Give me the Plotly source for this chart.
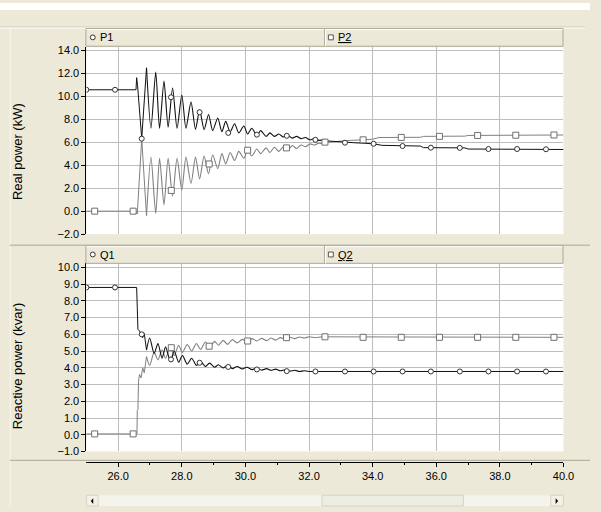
import plotly.graph_objects as go

# ---------------- data ----------------
# shared oscillation instants (extrema) for P1/P2
p_osc_t = [26.89, 27.03, 27.18, 27.30, 27.44, 27.57, 27.71, 27.85, 28.00, 28.13,
           28.29, 28.43, 28.56, 28.70, 28.84, 28.97, 29.13, 29.26, 29.38, 29.52,
           29.66, 29.79, 29.95, 30.07, 30.20, 30.36, 30.48, 30.65, 30.77, 30.91,
           31.05, 31.19, 31.33, 31.47, 31.61, 31.75, 31.89, 32.03, 32.17, 32.31,
           32.45, 32.59]

p1_head_t = [25.0, 26.56, 26.58, 26.61, 26.74]
p1_head_v = [10.55, 10.55, 11.6, 10.9, 6.3]
p1_osc_v = [12.46, 7.2, 12.1, 7.2, 11.3, 7.3, 10.7, 7.2, 10.1, 7.2,
            9.5, 7.1, 8.8, 7.1, 8.4, 7.0, 8.1, 6.9, 7.8, 6.9,
            7.6, 6.8, 7.4, 6.7, 7.2, 6.6, 7.0, 6.5, 6.8, 6.5,
            6.7, 6.45, 6.6, 6.35, 6.5, 6.3, 6.4, 6.2, 6.3, 6.15,
            6.2, 6.1]
p1_tail_t = [32.80, 33.40, 34.00, 34.30, 35.50, 35.60, 36.90, 37.00, 40.00]
p1_tail_v = [6.05, 5.95, 5.86, 5.72, 5.66, 5.52, 5.50, 5.40, 5.36]

p2_head_t = [25.0, 26.56, 26.60, 26.74]
p2_head_v = [0.0, 0.0, -0.25, 6.3]
p2_osc_v = [-0.4, 4.7, -0.2, 4.6, 0.55, 4.6, 1.3, 4.6, 1.85, 4.7,
            2.4, 4.7, 2.8, 4.8, 3.25, 4.9, 3.7, 5.0, 4.1, 5.1,
            4.4, 5.2, 4.6, 5.3, 4.8, 5.4, 5.0, 5.5, 5.1, 5.55,
            5.2, 5.6, 5.3, 5.7, 5.45, 5.75, 5.6, 5.85, 5.75, 5.9,
            5.85, 6.0]
p2_tail_t = [32.80, 33.30, 34.00, 34.20, 35.50, 35.60, 36.90, 37.00, 40.00]
p2_tail_v = [6.05, 6.15, 6.25, 6.40, 6.42, 6.50, 6.52, 6.58, 6.62]

# shared oscillation instants for Q1/Q2
q_osc_t = [26.89, 26.99, 27.13, 27.25, 27.38, 27.49, 27.64, 27.76, 27.90, 28.02,
           28.17, 28.31, 28.46, 28.59, 28.74, 28.87, 29.03, 29.15, 29.30, 29.44,
           29.59, 29.74, 29.90, 30.05, 30.21, 30.36, 30.51, 30.67, 30.80, 30.95,
           31.10, 31.25, 31.40, 31.55, 31.70, 31.85, 32.00]

q1_head_t = [25.0, 26.58, 26.60, 26.62, 26.67, 26.77, 26.82]
q1_head_v = [8.8, 8.8, 7.6, 6.3, 6.2, 5.8, 6.05]
q1_osc_v = [5.06, 5.78, 4.86, 5.45, 4.57, 5.25, 4.38, 5.0, 4.34, 4.73,
            4.22, 4.57, 4.14, 4.38, 4.08, 4.28, 4.03, 4.18, 3.99, 4.14,
            3.95, 4.08, 3.93, 4.03, 3.89, 3.98, 3.86, 3.95, 3.85, 3.92,
            3.82, 3.88, 3.80, 3.85, 3.78, 3.82, 3.78]
q1_tail_t = [40.0]
q1_tail_v = [3.78]

q2_head_t = [25.0, 26.59, 26.60, 26.62, 26.64, 26.67, 26.72, 26.77, 26.82]
q2_head_v = [0.05, 0.05, 1.45, 1.5, 3.2, 3.6, 3.4, 4.0, 3.7]
q2_osc_v = [4.67, 4.14, 4.92, 4.47, 5.06, 4.57, 5.25, 4.73, 5.35, 4.92,
            5.39, 5.0, 5.45, 5.1, 5.54, 5.25, 5.58, 5.35, 5.64, 5.4,
            5.68, 5.49, 5.7, 5.54, 5.74, 5.6, 5.76, 5.62, 5.78, 5.65,
            5.8, 5.7, 5.82, 5.74, 5.84, 5.78, 5.85]
q2_tail_t = [32.20, 32.40, 40.0]
q2_tail_v = [5.80, 5.85, 5.82]

# marker samples
circ_mk_t = [25.0, 25.9, 26.74, 27.66, 28.56, 29.46, 30.36, 31.3, 32.2, 33.13,
             34.03, 34.94, 35.83, 36.74, 37.64, 38.54, 39.45]
p1_mk_v = [10.55, 10.55, 6.3, 9.9, 8.6, 6.8, 6.65, 6.55, 6.2, 5.95,
           5.86, 5.66, 5.52, 5.5, 5.4, 5.4, 5.38]
q1_mk_v = [8.8, 8.8, 6.0, 4.5, 4.3, 4.05, 3.9, 3.8, 3.78, 3.78,
           3.78, 3.78, 3.78, 3.78, 3.78, 3.78, 3.78]
sq_mk_t = [25.26, 26.47, 27.67, 28.86, 30.07, 31.29, 32.5, 33.7, 34.9, 36.1,
           37.3, 38.5, 39.7]
p2_mk_v = [0.0, 0.0, 1.8, 4.1, 5.3, 5.5, 6.0, 6.2, 6.41, 6.5, 6.58, 6.6, 6.62]
q2_mk_v = [0.05, 0.05, 5.2, 5.29, 5.6, 5.8, 5.85, 5.82, 5.82, 5.82, 5.82, 5.82, 5.82]

series_names = ["P1", "P2", "Q1", "Q2"]
y_titles = ["Real power (kW)", "Reactive power (kvar)"]
x_ticks = [26, 28, 30, 32, 34, 36, 38, 40]

W, H = 601, 512
BG = "#ECE9D8"
GRID = "#BDBDBD"
DARK = "#111111"
GRAY = "#808080"
FONT = "Liberation Sans, Arial, sans-serif"


def px(v):
    return v / W


def py(v):
    return 1 - v / H


fig = go.Figure()


def add_series(head_t, head_v, osc_t, osc_v, tail_t, tail_v, color, xa, ya):
    # step / head part drawn straight
    fig.add_trace(go.Scatter(x=head_t + osc_t[:1], y=head_v + osc_v[:1], mode="lines",
                             xaxis=xa, yaxis=ya, line=dict(color=color, width=1),
                             showlegend=False, hoverinfo="skip"))
    # oscillating part drawn smooth
    fig.add_trace(go.Scatter(x=osc_t, y=osc_v, mode="lines", xaxis=xa, yaxis=ya,
                             line=dict(color=color, width=1.1, shape="spline", smoothing=0.7),
                             showlegend=False, hoverinfo="skip"))
    # settling tail
    fig.add_trace(go.Scatter(x=osc_t[-1:] + tail_t, y=osc_v[-1:] + tail_v, mode="lines",
                             xaxis=xa, yaxis=ya, line=dict(color=color, width=1),
                             showlegend=False, hoverinfo="skip"))


def add_marks(t, v, color, sym, size, xa, ya):
    fig.add_trace(go.Scatter(x=t, y=v, mode="markers", xaxis=xa, yaxis=ya,
                             marker=dict(symbol=sym, size=size, color="white",
                                         line=dict(color=color, width=1)),
                             showlegend=False, hoverinfo="skip"))


add_series(p2_head_t, p2_head_v, p_osc_t, p2_osc_v, p2_tail_t, p2_tail_v, GRAY, "x", "y")
add_series(p1_head_t, p1_head_v, p_osc_t, p1_osc_v, p1_tail_t, p1_tail_v, DARK, "x", "y")
add_marks(sq_mk_t, p2_mk_v, "#707070", "square", 6, "x", "y")
add_marks(circ_mk_t, p1_mk_v, "#333333", "circle", 5, "x", "y")

add_series(q2_head_t, q2_head_v, q_osc_t, q2_osc_v, q2_tail_t, q2_tail_v, GRAY, "x2", "y2")
add_series(q1_head_t, q1_head_v, q_osc_t, q1_osc_v, q1_tail_t, q1_tail_v, DARK, "x2", "y2")
add_marks(sq_mk_t, q2_mk_v, "#707070", "square", 6, "x2", "y2")
add_marks(circ_mk_t, q1_mk_v, "#333333", "circle", 5, "x2", "y2")

xdom = [px(88), px(574)]
tickfont = dict(family=FONT, size=11, color="black")

fig.update_layout(
    width=W, height=H, margin=dict(l=0, r=0, t=0, b=0),
    paper_bgcolor=BG, plot_bgcolor="white", showlegend=False,
    xaxis=dict(domain=xdom, range=[25, 40], anchor="y", tickvals=x_ticks,
               showticklabels=False, ticks="", showgrid=True, gridcolor=GRID,
               gridwidth=1, zeroline=False, showline=False),
    yaxis=dict(domain=[py(235.3), py(45)], range=[-2, 14.25], anchor="x",
               dtick=2, tick0=0, tickformat=".1f", ticks="outside", ticklen=4,
               tickcolor="black", showline=True, linecolor="black", linewidth=1,
               showgrid=True, gridcolor=GRID, zeroline=False, tickfont=tickfont),
    xaxis2=dict(domain=xdom, range=[25, 40], anchor="free", position=py(467),
                tickvals=x_ticks, ticktext=[f"{v:.1f}" for v in x_ticks],
                ticks="outside", ticklen=4, tickcolor="black", showline=True,
                linecolor="black", linewidth=1, showgrid=True, gridcolor=GRID,
                zeroline=False, tickfont=tickfont,
                minor=dict(tickvals=[27, 29, 31, 33, 35, 37, 39], ticks="outside",
                           ticklen=2, tickcolor="black", showgrid=False)),
    yaxis2=dict(domain=[py(456.5), py(265)], range=[-1, 10.24], anchor="x2",
                dtick=1, tick0=0, tickformat=".1f", ticks="outside", ticklen=4,
                tickcolor="black", showline=True, linecolor="black", linewidth=1,
                showgrid=True, gridcolor=GRID, zeroline=False, tickfont=tickfont),
)

shapes = []


def rect(x0, y0, x1, y1, fill, line=None, lw=1):
    shapes.append(dict(type="rect", xref="paper", yref="paper",
                       x0=px(x0), x1=px(x1), y0=py(y1), y1=py(y0),
                       fillcolor=fill, line=dict(color=line or fill, width=lw if line else 0)))


def hline(x0, x1, y, color, lw=1):
    shapes.append(dict(type="line", xref="paper", yref="paper", x0=px(x0), x1=px(x1),
                       y0=py(y), y1=py(y), line=dict(color=color, width=lw)))


def vline(x, y0, y1, color, lw=1):
    shapes.append(dict(type="line", xref="paper", yref="paper", x0=px(x), x1=px(x),
                       y0=py(y0), y1=py(y1), line=dict(color=color, width=lw)))


# window chrome
rect(0, 0, 601, 7, "white")
hline(0, 596, 24.5, "#CFCBB8")
hline(0, 596, 25.5, "#FFFFFF")
vline(10.5, 26, 512, "#F8F7F2")
hline(10, 601, 246.5, "#ACA899")
hline(10, 601, 465.5, "#ACA899")

# legend header bars
for (y0, y1) in [(26, 44), (247, 265)]:
    rect(87.5, y0, 573.5, y1, "#ECE9D8", "#ACA899")
    hline(88, 573, y0 + 1, "#FFFFFF")
    vline(330.5, y0, y1, "#ACA899")
    vline(331.5, y0 + 1, y1, "#FFFFFF")
    cy = (y0 + y1) / 2
    shapes.append(dict(type="circle", xref="paper", yref="paper",
                       x0=px(92), x1=px(97), y0=py(cy + 2.5), y1=py(cy - 2.5),
                       line=dict(color="#333333", width=1), fillcolor="white"))
    rect(334.5, cy - 2.5, 339.5, cy + 2.5, "white", "#555555")

# scrollbar
rect(88, 501, 574, 512, "#F4F3EC")
rect(88, 501, 100, 512, "#F3F1E6", "#D6D3C3")
rect(561, 501, 574, 512, "#F3F1E6", "#D6D3C3")
rect(328, 501, 472, 512, "#EEEDE4", "#D6D3C3")
shapes.append(dict(type="path", xref="paper", yref="paper",
                   path=f"M {px(95)} {py(504)} L {px(95)} {py(510)} L {px(92.5)} {py(507)} Z",
                   fillcolor="black", line=dict(width=0)))
shapes.append(dict(type="path", xref="paper", yref="paper",
                   path=f"M {px(566)} {py(504)} L {px(566)} {py(510)} L {px(568.5)} {py(507)} Z",
                   fillcolor="black", line=dict(width=0)))

fig.update_layout(shapes=shapes)

ann = []
legfont = dict(family=FONT, size=11, color="black")
for cy, (n1, n2) in [(35, (series_names[0], series_names[1])),
                     (256, (series_names[2], series_names[3]))]:
    ann.append(dict(text=n1, x=px(100), y=py(cy), xref="paper", yref="paper",
                    xanchor="left", yanchor="middle", showarrow=False, font=legfont))
    ann.append(dict(text=f"<u>{n2}</u>", x=px(342), y=py(cy), xref="paper", yref="paper",
                    xanchor="left", yanchor="middle", showarrow=False, font=legfont))

titlefont = dict(family=FONT, size=13, color="black")
for yc, txt in [(151, y_titles[0]), (370, y_titles[1])]:
    ann.append(dict(text=txt, x=px(18), y=py(yc), xref="paper", yref="paper",
                    xanchor="center", yanchor="middle", textangle=-90,
                    showarrow=False, font=titlefont))

fig.update_layout(annotations=ann)
fig.write_html("out.html")
